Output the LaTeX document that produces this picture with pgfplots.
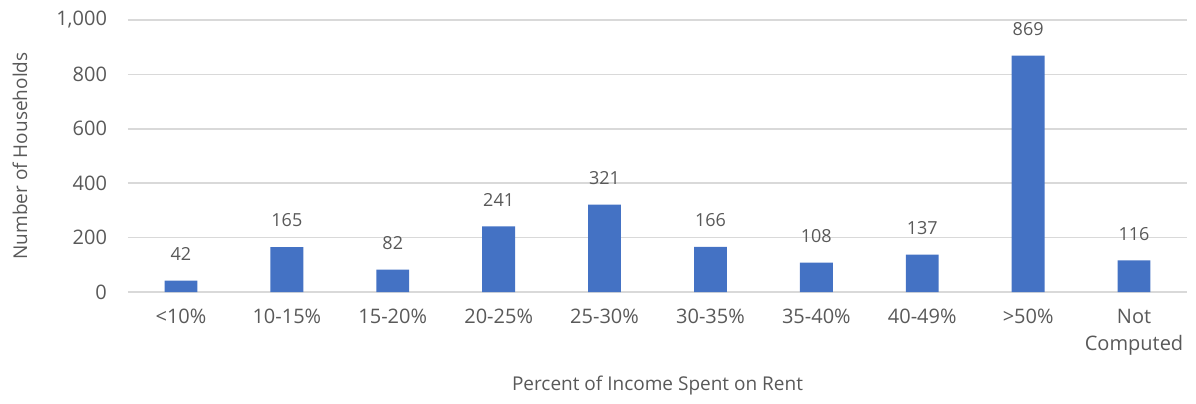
\documentclass[border=0pt]{standalone}
\usepackage{pgfplots}
\pgfplotsset{compat=1.18}
\usepackage{fontspec}
\setmainfont{Open Sans}
\definecolor{barblue}{HTML}{4472C4}
\definecolor{gridgray}{HTML}{D9D9D9}
\definecolor{txtgray}{HTML}{595959}
\begin{document}
\begin{tikzpicture}
\begin{axis}[
  scale only axis,
  width=529.5pt, height=136pt,
  xmin=-0.5, xmax=9.5, ymin=0, ymax=1000,
  axis line style={draw=none},
  axis x line*=bottom,
  ytick={0,200,400,600,800,1000},
  yticklabel style={font=\fontsize{10}{12}\selectfont, text=txtgray, xshift=-7pt},
  /pgf/number format/assume math mode=true,
  /pgf/number format/1000 sep={,},
  ymajorgrids, grid style={gridgray, line width=0.8pt},
  xtick={0,...,9},
  xticklabels={{<10\%},{10-15\%},{15-20\%},{20-25\%},{25-30\%},{30-35\%},{35-40\%},{40-49\%},{>50\%},{Not\\Computed}},
  xticklabel style={font=\fontsize{10}{13.5}\selectfont, text=txtgray, align=center, anchor=north, yshift=-5pt},
  major tick length=0pt,
  ylabel={Number of Households},
  xlabel={Percent of Income Spent on Rent},
  label style={font=\fontsize{9.5}{12}\selectfont, text=txtgray},
  ylabel style={at={(axis description cs:0,0.5)}, anchor=center, rotate=0, yshift=54pt},
  xlabel style={at={(axis description cs:0.5,0)}, anchor=center, yshift=-47pt},
  nodes near coords,
  nodes near coords style={font=\fontsize{9}{11}\selectfont, text=txtgray, anchor=south, yshift=6.5pt},
  clip=false,
]
\draw[gridgray, line width=0.8pt] (axis cs:-0.5,0) -- (axis cs:9.5,0);
\addplot[ybar, bar width=0.31, fill=barblue, draw=none] coordinates {
(0,42) (1,165) (2,82) (3,241) (4,321) (5,166) (6,108) (7,137) (8,869) (9,116)};
\end{axis}
\path[use as bounding box] ([shift={(-64pt,-55.5pt)}]current axis.south west) rectangle ([shift={(534pt,146pt)}]current axis.south west);
\end{tikzpicture}
\end{document}
